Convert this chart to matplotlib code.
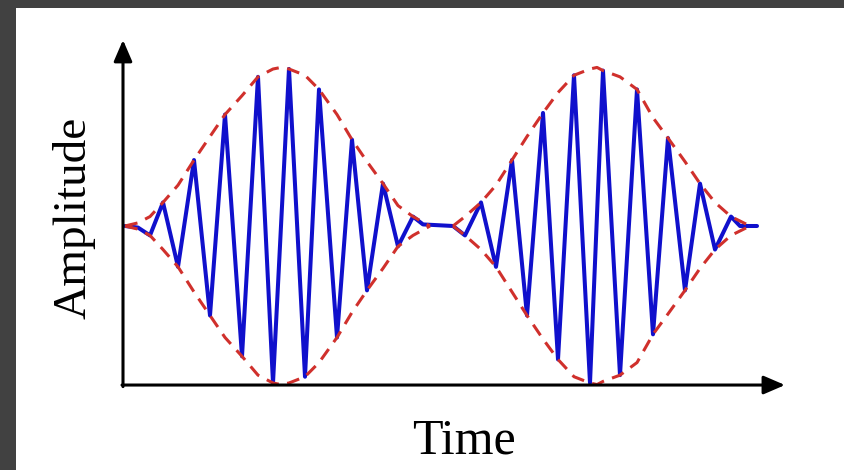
import matplotlib
matplotlib.use("Agg")
import matplotlib.pyplot as plt
from matplotlib.patches import Rectangle

# ---- data (time in arbitrary units, amplitude normalised to envelope max) ----
signal_t = [0.02, 0.15, 0.27, 0.40, 0.55, 0.71, 0.87, 1.02, 1.19, 1.35, 1.50, 1.66,
            1.82, 1.96, 2.14, 2.29, 2.44, 2.60, 2.75, 2.90, 3.00,
            3.30, 3.42, 3.58, 3.73, 3.89, 4.04, 4.20, 4.35, 4.51, 4.67, 4.80,
            4.97, 5.14, 5.30, 5.45, 5.62, 5.77, 5.92, 6.08, 6.17, 6.34]
signal_a = [0.00, -0.01, -0.06, 0.15, -0.26, 0.42, -0.57, 0.71, -0.83, 0.95, -1.00, 1.00,
            -0.96, 0.87, -0.71, 0.55, -0.41, 0.27, -0.13, 0.06, 0.01,
            0.00, -0.06, 0.15, -0.26, 0.42, -0.57, 0.72, -0.85, 0.96, -1.00, 0.99,
            -0.95, 0.87, -0.69, 0.56, -0.41, 0.27, -0.15, 0.06, 0.00, 0.00]

env1_t = [0.02, 0.15, 0.27, 0.40, 0.55, 0.71, 0.87, 1.02, 1.19, 1.35, 1.50, 1.58,
          1.66, 1.82, 1.96, 2.14, 2.29, 2.44, 2.60, 2.75, 2.90, 3.07]
env1_a = [0.00, 0.02, 0.06, 0.15, 0.26, 0.42, 0.57, 0.71, 0.83, 0.95, 1.00, 1.01,
          1.00, 0.96, 0.87, 0.71, 0.55, 0.41, 0.27, 0.13, 0.06, 0.00]

env2_t = [3.30, 3.42, 3.58, 3.73, 3.89, 4.04, 4.20, 4.35, 4.51, 4.67, 4.74, 4.80,
          4.97, 5.14, 5.30, 5.45, 5.62, 5.77, 5.92, 6.08, 6.27]
env2_a = [0.00, 0.06, 0.15, 0.26, 0.42, 0.57, 0.72, 0.85, 0.96, 1.00, 1.01, 0.99,
          0.95, 0.87, 0.69, 0.56, 0.41, 0.27, 0.15, 0.06, 0.00]

x_label = "Time"
y_label = "Amplitude"

# ---- axis geometry (data units) ----
origin_t, origin_a = 0.0, -1.013
x_arrow_end = 6.62
y_arrow_end = 1.185

W, H = 844, 470
fig = plt.figure(figsize=(W / 100, H / 100), dpi=100)
fig.patch.set_facecolor("#414141")
fig.add_artist(Rectangle((16 / W, 0), 1 - 16 / W, (H - 8) / H,
                         transform=fig.transFigure, facecolor="white",
                         edgecolor="none", zorder=0))

ax = fig.add_axes([100 / W, 1 - 420 / H, 720 / W, 400 / H])
ax.set_xlim(-0.23, 6.97)
ax.set_ylim(-1.2357, 1.3121)
ax.axis("off")
ax.patch.set_alpha(0)

blue = "#1010cc"
red = "#d0302c"

ax.plot(signal_t, signal_a, color=blue, lw=2.9, solid_joinstyle="round",
        solid_capstyle="round", zorder=3)
dash = (0, (4.2, 2.8))
for et, ea in ((env1_t, env1_a), (env2_t, env2_a)):
    ax.plot(et, ea, color=red, lw=2.2, linestyle=dash, zorder=4)
    ax.plot(et, [-v for v in ea], color=red, lw=2.2, linestyle=dash, zorder=4)

arrow = dict(arrowstyle="-|>,head_length=0.65,head_width=0.28", color="black",
             lw=2.2, shrinkA=0, shrinkB=0, mutation_scale=20)
ax.annotate("", xy=(x_arrow_end, origin_a), xytext=(origin_t - 0.01, origin_a),
            arrowprops=arrow, zorder=5)
ax.annotate("", xy=(origin_t, y_arrow_end), xytext=(origin_t, origin_a - 0.01),
            arrowprops=arrow, zorder=5)

fig.text(464 / W, 1 - 453 / H, x_label, ha="center", va="baseline",
         fontsize=36, family="Liberation Serif", color="black")
fig.text(74 / W, 1 - 218 / H, y_label, ha="center", va="center", rotation=90,
         fontsize=34, family="Liberation Serif", color="black")

fig.savefig("out.png", dpi=100, facecolor=fig.get_facecolor())
